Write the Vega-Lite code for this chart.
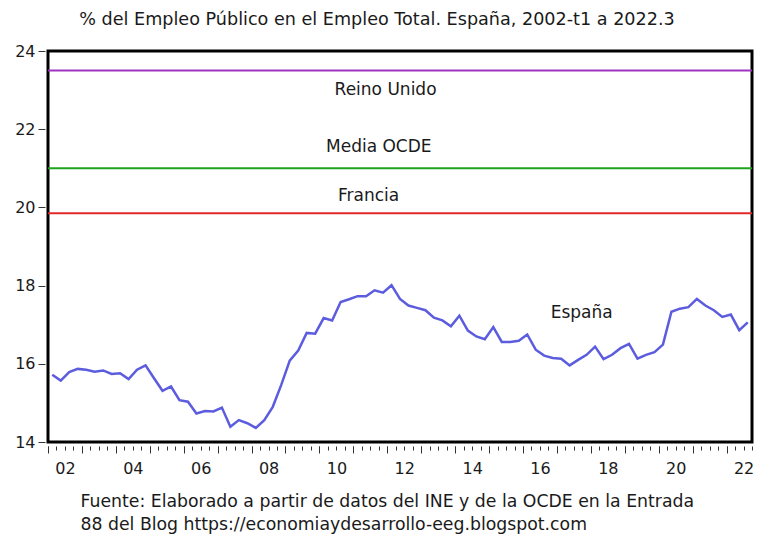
{
  "$schema": "https://vega.github.io/schema/vega-lite/v6.json",
  "width": 704,
  "height": 391,
  "autosize": {"type": "none"},
  "padding": {"left": 48, "top": 51, "right": 5, "bottom": 94},
  "background": "white",
  "title": {
    "text": "% del Empleo Público en el Empleo Total. España, 2002-t1  a 2022.3",
    "font": "DejaVu Sans",
    "fontSize": 17.6,
    "fontWeight": "normal",
    "color": "#1a1a1a",
    "anchor": "middle",
    "frame": "group",
    "dx": -23,
    "offset": 14
  },
  "config": {
    "view": {"stroke": "black", "strokeWidth": 3}
  },
  "resolve": {"axis": {"x": "independent"}},
  "layer": [
    {
      "data": {"values": [
        {"serie": "Reino Unido", "valor": 23.5},
        {"serie": "Media OCDE", "valor": 21.0},
        {"serie": "Francia", "valor": 19.85}
      ]},
      "mark": {"type": "rule", "strokeWidth": 2},
      "encoding": {
        "y": {
          "field": "valor", "type": "quantitative",
          "scale": {"domain": [14, 24], "nice": false, "zero": false},
          "axis": {
            "values": [14, 16, 18, 20, 22, 24],
            "grid": false,
            "domain": false,
            "tickSize": 7,
            "tickColor": "#333333",
            "tickWidth": 1,
            "offset": 3,
            "labelFont": "DejaVu Sans",
            "labelFontSize": 16,
            "labelColor": "#1a1a1a",
            "labelPadding": 3,
            "title": null
          }
        },
        "color": {"field": "serie", "type": "nominal", "scale": {"domain": ["Reino Unido", "Media OCDE", "Francia"], "range": ["#a034c2", "#1ea31e", "#e02828"]}, "legend": null}
      }
    },
    {
      "data": {"values": [
        {"t": 2002.125, "valor": 15.72}, {"t": 2002.375, "valor": 15.57}, {"t": 2002.625, "valor": 15.79}, {"t": 2002.875, "valor": 15.87},
        {"t": 2003.125, "valor": 15.85}, {"t": 2003.375, "valor": 15.80}, {"t": 2003.625, "valor": 15.83}, {"t": 2003.875, "valor": 15.74},
        {"t": 2004.125, "valor": 15.76}, {"t": 2004.375, "valor": 15.61}, {"t": 2004.625, "valor": 15.85}, {"t": 2004.875, "valor": 15.96},
        {"t": 2005.125, "valor": 15.63}, {"t": 2005.375, "valor": 15.31}, {"t": 2005.625, "valor": 15.42}, {"t": 2005.875, "valor": 15.07},
        {"t": 2006.125, "valor": 15.03}, {"t": 2006.375, "valor": 14.73}, {"t": 2006.625, "valor": 14.79}, {"t": 2006.875, "valor": 14.78},
        {"t": 2007.125, "valor": 14.88}, {"t": 2007.375, "valor": 14.39}, {"t": 2007.625, "valor": 14.56}, {"t": 2007.875, "valor": 14.48},
        {"t": 2008.125, "valor": 14.36}, {"t": 2008.375, "valor": 14.56}, {"t": 2008.625, "valor": 14.90}, {"t": 2008.875, "valor": 15.46},
        {"t": 2009.125, "valor": 16.08}, {"t": 2009.375, "valor": 16.34}, {"t": 2009.625, "valor": 16.79}, {"t": 2009.875, "valor": 16.77},
        {"t": 2010.125, "valor": 17.17}, {"t": 2010.375, "valor": 17.11}, {"t": 2010.625, "valor": 17.58}, {"t": 2010.875, "valor": 17.65},
        {"t": 2011.125, "valor": 17.73}, {"t": 2011.375, "valor": 17.73}, {"t": 2011.625, "valor": 17.88}, {"t": 2011.875, "valor": 17.82},
        {"t": 2012.125, "valor": 18.01}, {"t": 2012.375, "valor": 17.66}, {"t": 2012.625, "valor": 17.49}, {"t": 2012.875, "valor": 17.43},
        {"t": 2013.125, "valor": 17.37}, {"t": 2013.375, "valor": 17.18}, {"t": 2013.625, "valor": 17.11}, {"t": 2013.875, "valor": 16.96},
        {"t": 2014.125, "valor": 17.23}, {"t": 2014.375, "valor": 16.85}, {"t": 2014.625, "valor": 16.70}, {"t": 2014.875, "valor": 16.63},
        {"t": 2015.125, "valor": 16.94}, {"t": 2015.375, "valor": 16.56}, {"t": 2015.625, "valor": 16.56}, {"t": 2015.875, "valor": 16.59},
        {"t": 2016.125, "valor": 16.75}, {"t": 2016.375, "valor": 16.36}, {"t": 2016.625, "valor": 16.21}, {"t": 2016.875, "valor": 16.15},
        {"t": 2017.125, "valor": 16.13}, {"t": 2017.375, "valor": 15.96}, {"t": 2017.625, "valor": 16.10}, {"t": 2017.875, "valor": 16.23},
        {"t": 2018.125, "valor": 16.44}, {"t": 2018.375, "valor": 16.12}, {"t": 2018.625, "valor": 16.23}, {"t": 2018.875, "valor": 16.40},
        {"t": 2019.125, "valor": 16.51}, {"t": 2019.375, "valor": 16.13}, {"t": 2019.625, "valor": 16.23}, {"t": 2019.875, "valor": 16.30},
        {"t": 2020.125, "valor": 16.49}, {"t": 2020.375, "valor": 17.33}, {"t": 2020.625, "valor": 17.41}, {"t": 2020.875, "valor": 17.45},
        {"t": 2021.125, "valor": 17.66}, {"t": 2021.375, "valor": 17.49}, {"t": 2021.625, "valor": 17.37}, {"t": 2021.875, "valor": 17.20},
        {"t": 2022.125, "valor": 17.26}, {"t": 2022.375, "valor": 16.86}, {"t": 2022.625, "valor": 17.06}
      ]},
      "mark": {"type": "line", "color": "#5c5cde", "strokeWidth": 2.5},
      "encoding": {
        "x": {
          "field": "t", "type": "quantitative",
          "scale": {"domain": [2002, 2022.75], "nice": false, "zero": false},
          "axis": {
            "orient": "bottom",
            "values": [2002, 2003, 2004, 2005, 2006, 2007, 2008, 2009, 2010, 2011, 2012, 2013, 2014, 2015, 2016, 2017, 2018, 2019, 2020, 2021, 2022],
            "format": "d",
            "labelExpr": "datum.value % 2 === 0 ? substring(datum.label, 2) : ''",
            "labelOffset": 17,
            "labelOverlap": false,
            "labelFlush": false,
            "labelBound": false,
            "labelFont": "DejaVu Sans",
            "labelFontSize": 16,
            "labelColor": "#1a1a1a",
            "labelPadding": 7,
            "tickSize": 7,
            "tickColor": "#333333",
            "tickWidth": 1,
            "offset": 4,
            "domain": false,
            "grid": false,
            "title": ["Fuente: Elaborado a partir de datos del INE y de la OCDE en la Entrada", "88 del Blog https://economiaydesarrollo-eeg.blogspot.com"],
            "titleFont": "DejaVu Sans",
            "titleFontSize": 17.3,
            "titleFontWeight": "normal",
            "titleColor": "#1a1a1a",
            "titleAnchor": "start",
            "titleAlign": "left",
            "titleBaseline": "alphabetic",
            "titleX": 32,
            "titleY": 60,
            "titleLineHeight": 23
          }
        },
        "y": {"field": "valor", "type": "quantitative", "scale": {"domain": [14, 24], "nice": false, "zero": false}, "axis": {"title": null}}
      }
    },
    {
      "data": {"values": [
        {"etiqueta": "Reino Unido", "t": 2011.95, "valor": 23.0},
        {"etiqueta": "Media OCDE", "t": 2011.75, "valor": 21.55},
        {"etiqueta": "Francia", "t": 2011.45, "valor": 20.3},
        {"etiqueta": "España", "t": 2017.73, "valor": 17.31}
      ]},
      "mark": {"type": "text", "font": "DejaVu Sans", "fontSize": 17, "color": "#1a1a1a", "align": "center", "baseline": "middle"},
      "encoding": {
        "x": {
          "field": "t", "type": "quantitative",
          "scale": {"domain": [2002, 2022.75], "nice": false, "zero": false},
          "axis": {
            "orient": "bottom",
            "values": [2002, 2002.25, 2002.5, 2002.75, 2003, 2003.25, 2003.5, 2003.75, 2004, 2004.25, 2004.5, 2004.75, 2005, 2005.25, 2005.5, 2005.75, 2006, 2006.25, 2006.5, 2006.75, 2007, 2007.25, 2007.5, 2007.75, 2008, 2008.25, 2008.5, 2008.75, 2009, 2009.25, 2009.5, 2009.75, 2010, 2010.25, 2010.5, 2010.75, 2011, 2011.25, 2011.5, 2011.75, 2012, 2012.25, 2012.5, 2012.75, 2013, 2013.25, 2013.5, 2013.75, 2014, 2014.25, 2014.5, 2014.75, 2015, 2015.25, 2015.5, 2015.75, 2016, 2016.25, 2016.5, 2016.75, 2017, 2017.25, 2017.5, 2017.75, 2018, 2018.25, 2018.5, 2018.75, 2019, 2019.25, 2019.5, 2019.75, 2020, 2020.25, 2020.5, 2020.75, 2021, 2021.25, 2021.5, 2021.75, 2022, 2022.25, 2022.5, 2022.75],
            "labels": false,
            "tickSize": 4,
            "tickColor": "#333333",
            "tickWidth": 1,
            "offset": 4,
            "domain": false,
            "grid": false,
            "title": null
          }
        },
        "y": {"field": "valor", "type": "quantitative", "scale": {"domain": [14, 24], "nice": false, "zero": false}, "axis": {"title": null}},
        "text": {"field": "etiqueta", "type": "nominal"}
      }
    }
  ]
}
